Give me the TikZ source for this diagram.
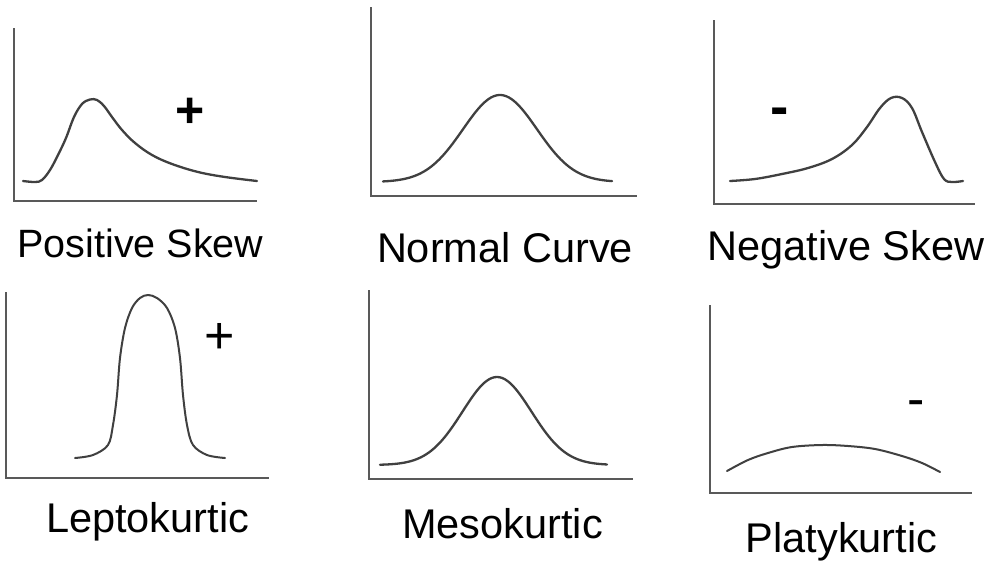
\documentclass[tikz,border=0pt]{standalone}
\usepackage{fontspec}
\setmainfont{Liberation Sans}
\begin{document}
\begin{tikzpicture}[x=1pt,y=-1pt,
  axisline/.style={draw=black!65,line width=2pt},
  curveline/.style={draw=black!75,line width=2.3pt,line join=round,line cap=round},
  caption/.style={anchor=base,inner sep=0pt,font=\fontsize{41.5}{44}\selectfont},
  signtext/.style={anchor=base,inner sep=0pt,text=black}]
\path[use as bounding box,fill=white] (0,0) rectangle (992,562);

% ---- Panel 1: Positive Skew
\coordinate (p1top) at (14,28);
\coordinate (p1org) at (14,201);
\coordinate (p1end) at (257,201);
\draw[axisline] (p1top) -- (p1org) -- (p1end);
\draw[curveline] plot[smooth,tension=0.6] coordinates {(23,181) (35,182) (42,180) (50,170) (58,155) (66,138) (74,117) (82,104) (90,99.5) (97,100) (104,106) (112,117) (122,130) (135,143) (152,155) (172,164) (198,172) (225,177) (257,181)};
\node[signtext,font=\fontsize{50}{52}\selectfont\bfseries] (s1) at (190,127.5) {+};
\node[caption,font=\fontsize{39.5}{42}\selectfont] (l1) at (140.5,257) {Positive Skew};

% ---- Panel 2: Normal Curve
\coordinate (p2top) at (371,7);
\coordinate (p2org) at (371,196);
\coordinate (p2end) at (637,196);
\draw[axisline] (p2top) -- (p2org) -- (p2end);
\draw[curveline] plot[domain=383:612,samples=90] ({\x},{182-87*exp(-0.5*((\x-500)/37)^2)});
\node[caption] (l2) at (505,262) {Normal Curve};

% ---- Panel 3: Negative Skew
\coordinate (p3top) at (714,20);
\coordinate (p3org) at (714,204);
\coordinate (p3end) at (975,204);
\draw[axisline] (p3top) -- (p3org) -- (p3end);
\draw[curveline] plot[smooth,tension=0.6] coordinates {(730,181) (755,179) (782,174) (808,168) (832,159) (852,145) (867,127) (880,108) (891,98) (902,98) (912,108) (922,132) (935,162) (944,179) (952,182) (963,181)};
\node[signtext,font=\fontsize{55}{58}\selectfont\bfseries] (s3) at (780,125) {-};
\node[caption] (l3) at (846,260) {Negative Skew};

% ---- Panel 4: Leptokurtic
\coordinate (p4top) at (6,292);
\coordinate (p4org) at (6,478);
\coordinate (p4end) at (269,478);
\draw[axisline] (p4top) -- (p4org) -- (p4end);
\draw[curveline,line width=2pt] plot[smooth,tension=0.55] coordinates {(75,458) (93,455) (108,445) (113,425) (117,395) (120,358) (125,328) (132,308) (140,298) (148,295) (157,298) (167,308) (175,328) (180,358) (183,395) (187,425) (193,445) (207,455) (225,458)};
\node[signtext,font=\fontsize{52}{54}\selectfont] (s4) at (220,353.5) {+};
\node[caption] (l4) at (147.5,532) {Leptokurtic};

% ---- Panel 5: Mesokurtic
\coordinate (p5top) at (369,290);
\coordinate (p5org) at (369,479);
\coordinate (p5end) at (633,479);
\draw[axisline] (p5top) -- (p5org) -- (p5end);
\draw[curveline] plot[domain=380:607,samples=90] ({\x},{465-88*exp(-0.5*((\x-497)/34.5)^2)});
\node[caption] (l5) at (502.5,538) {Mesokurtic};

% ---- Panel 6: Platykurtic
\coordinate (p6top) at (710,305);
\coordinate (p6org) at (710,493);
\coordinate (p6end) at (972,493);
\draw[axisline] (p6top) -- (p6org) -- (p6end);
\draw[curveline,line width=2pt] plot[smooth,tension=0.55] coordinates {(727,471) (748,460) (768,453) (792,447) (822,445) (848,446) (875,449) (902,456) (922,463) (940,472)};
\node[signtext,font=\fontsize{52}{54}\selectfont] (s6) at (916,416) {-};
\node[caption] (l6) at (841.5,552) {Platykurtic};
\end{tikzpicture}
\end{document}
